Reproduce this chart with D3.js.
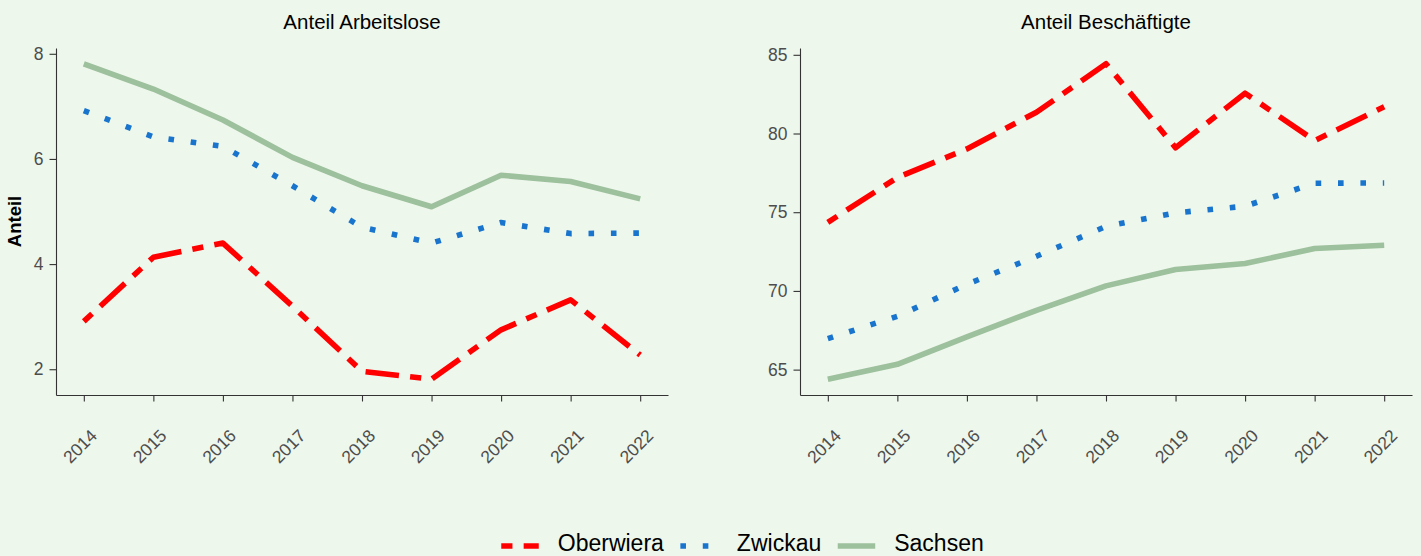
<!DOCTYPE html>
<html><head><meta charset="utf-8">
<script src="https://cdn.jsdelivr.net/npm/d3@7"></script>
<style>
body{margin:0;background:#EEF7EC;}
svg{display:block;font-family:"Liberation Sans",Arial,sans-serif;}
</style>
</head><body>
<svg id="chart" width="1421" height="556"></svg>
<script>
// ---- data ----
const years = [2014, 2015, 2016, 2017, 2018, 2019, 2020, 2021, 2022];
const seriesNames = ["Oberwiera", "Zwickau", "Sachsen"];
const arbeitsloseOberwiera = [2.91, 4.13, 4.40, 3.20, 1.96, 1.81, 2.75, 3.32, 2.27];
const arbeitsloseZwickau   = [6.92, 6.42, 6.24, 5.49, 4.70, 4.40, 4.79, 4.58, 4.59];
const arbeitsloseSachsen   = [7.81, 7.33, 6.74, 6.03, 5.49, 5.09, 5.69, 5.57, 5.24];
const beschaeftigteOberwiera = [74.36, 77.20, 79.02, 81.35, 84.43, 79.10, 82.56, 79.55, 81.70];
const beschaeftigteZwickau   = [66.97, 68.39, 70.42, 72.20, 74.10, 74.96, 75.38, 76.84, 76.86];
const beschaeftigteSachsen   = [64.39, 65.34, 67.08, 68.77, 70.32, 71.36, 71.74, 72.69, 72.90];
const ticksArbeitslose = [2, 4, 6, 8];
const ticksBeschaeftigte = [65, 70, 75, 80, 85];
const panelTitles = ["Anteil Arbeitslose", "Anteil Beschäftigte"];
const yAxisTitle = "Anteil";

// ---- style ----
const LW = 5.6;
const colors = {Oberwiera: "#FF0000", Zwickau: "#1874CD", Sachsen: "#9DC09D"};
const dashes = {
  Oberwiera: [2*LW, 2*LW, 6*LW, 2*LW].join(","),
  Zwickau: [LW, 3*LW].join(","),
  Sachsen: null
};
const axisColor = "#333333";
const tickTextColor = "#4D4D4D";

const svg = d3.select("#chart");
svg.append("rect").attr("width", 1421).attr("height", 556).attr("fill", "#EEF7EC");

const panels = [
  {title: panelTitles[0], ticks: ticksArbeitslose, x0: 56, x1: 668,
   data: {Oberwiera: arbeitsloseOberwiera, Zwickau: arbeitsloseZwickau, Sachsen: arbeitsloseSachsen}},
  {title: panelTitles[1], ticks: ticksBeschaeftigte, x0: 800, x1: 1412,
   data: {Oberwiera: beschaeftigteOberwiera, Zwickau: beschaeftigteZwickau, Sachsen: beschaeftigteSachsen}}
];
const yTop = 48, yBottom = 395;

panels.forEach(p => {
  const all = seriesNames.flatMap(n => p.data[n]);
  const [mn, mx] = d3.extent(all);
  const pad = (mx - mn) * 0.05;
  const y = d3.scaleLinear().domain([mn - pad, mx + pad]).range([yBottom, yTop]);
  const xpad = (years[years.length-1] - years[0]) * 0.05;
  const x = d3.scaleLinear().domain([years[0] - xpad, years[years.length-1] + xpad]).range([p.x0, p.x1]);

  const g = svg.append("g");

  ["Sachsen", "Zwickau", "Oberwiera"].forEach(n => {
    const line = d3.line().x((d, i) => x(years[i])).y(d => y(d));
    g.append("path")
      .datum(p.data[n])
      .attr("d", line)
      .attr("fill", "none")
      .attr("stroke", colors[n])
      .attr("stroke-width", LW)
      .attr("stroke-linejoin", "round")
      .attr("stroke-linecap", "butt")
      .attr("stroke-dasharray", dashes[n]);
  });

  const ya = g.append("g").attr("transform", `translate(${p.x0},0)`)
    .call(d3.axisLeft(y).tickValues(p.ticks).tickFormat(d3.format("d"))
      .tickSize(6.5).tickSizeOuter(0).tickPadding(6));
  const xa = g.append("g").attr("transform", `translate(0,${yBottom})`)
    .call(d3.axisBottom(x).tickValues(years).tickFormat(d3.format("d"))
      .tickSize(6.5).tickSizeOuter(0).tickPadding(0));

  [ya, xa].forEach(a => {
    a.select(".domain").attr("stroke", axisColor).attr("stroke-width", 1.1);
    a.selectAll(".tick line").attr("stroke", axisColor).attr("stroke-width", 1.1);
    a.selectAll(".tick text").attr("fill", tickTextColor)
      .style("font-size", "17.5px").style("font-family", '"Liberation Sans",Arial,sans-serif');
  });
  xa.selectAll(".tick text")
    .attr("text-anchor", "end")
    .attr("y", 0)
    .attr("transform", "translate(5,33) rotate(-45)")
    .attr("dy", "0.71em");

  svg.append("text")
    .attr("x", (p.x0 + p.x1) / 2).attr("y", 29)
    .attr("text-anchor", "middle")
    .style("font-size", "20.5px").attr("fill", "#000")
    .text(p.title);
});

svg.append("text")
  .attr("transform", `translate(21,${(yTop + yBottom) / 2}) rotate(-90)`)
  .attr("text-anchor", "middle")
  .style("font-size", "18.5px").style("font-weight", "bold")
  .text(yAxisTitle);

// legend
const lg = svg.append("g");
const keyW = 37.5, keyGap = 19, itemGap = 16.5;
let cx = 0;
seriesNames.forEach(n => {
  const it = lg.append("g").attr("transform", `translate(${cx},0)`);
  it.append("line").attr("x1", 0).attr("x2", keyW).attr("y1", 0).attr("y2", 0)
    .attr("stroke", colors[n]).attr("stroke-width", LW)
    .attr("stroke-dasharray", dashes[n]).attr("stroke-linecap", "butt");
  const t = it.append("text").attr("x", keyW + keyGap).attr("y", 4.5)
    .style("font-size", "23px").attr("fill", "#000").text(n);
  const w = t.node().getComputedTextLength();
  cx += keyW + keyGap + w + itemGap;
});
const totalW = cx - itemGap;
lg.attr("transform", `translate(${742.5 - totalW / 2},546)`);
</script>
</body></html>
